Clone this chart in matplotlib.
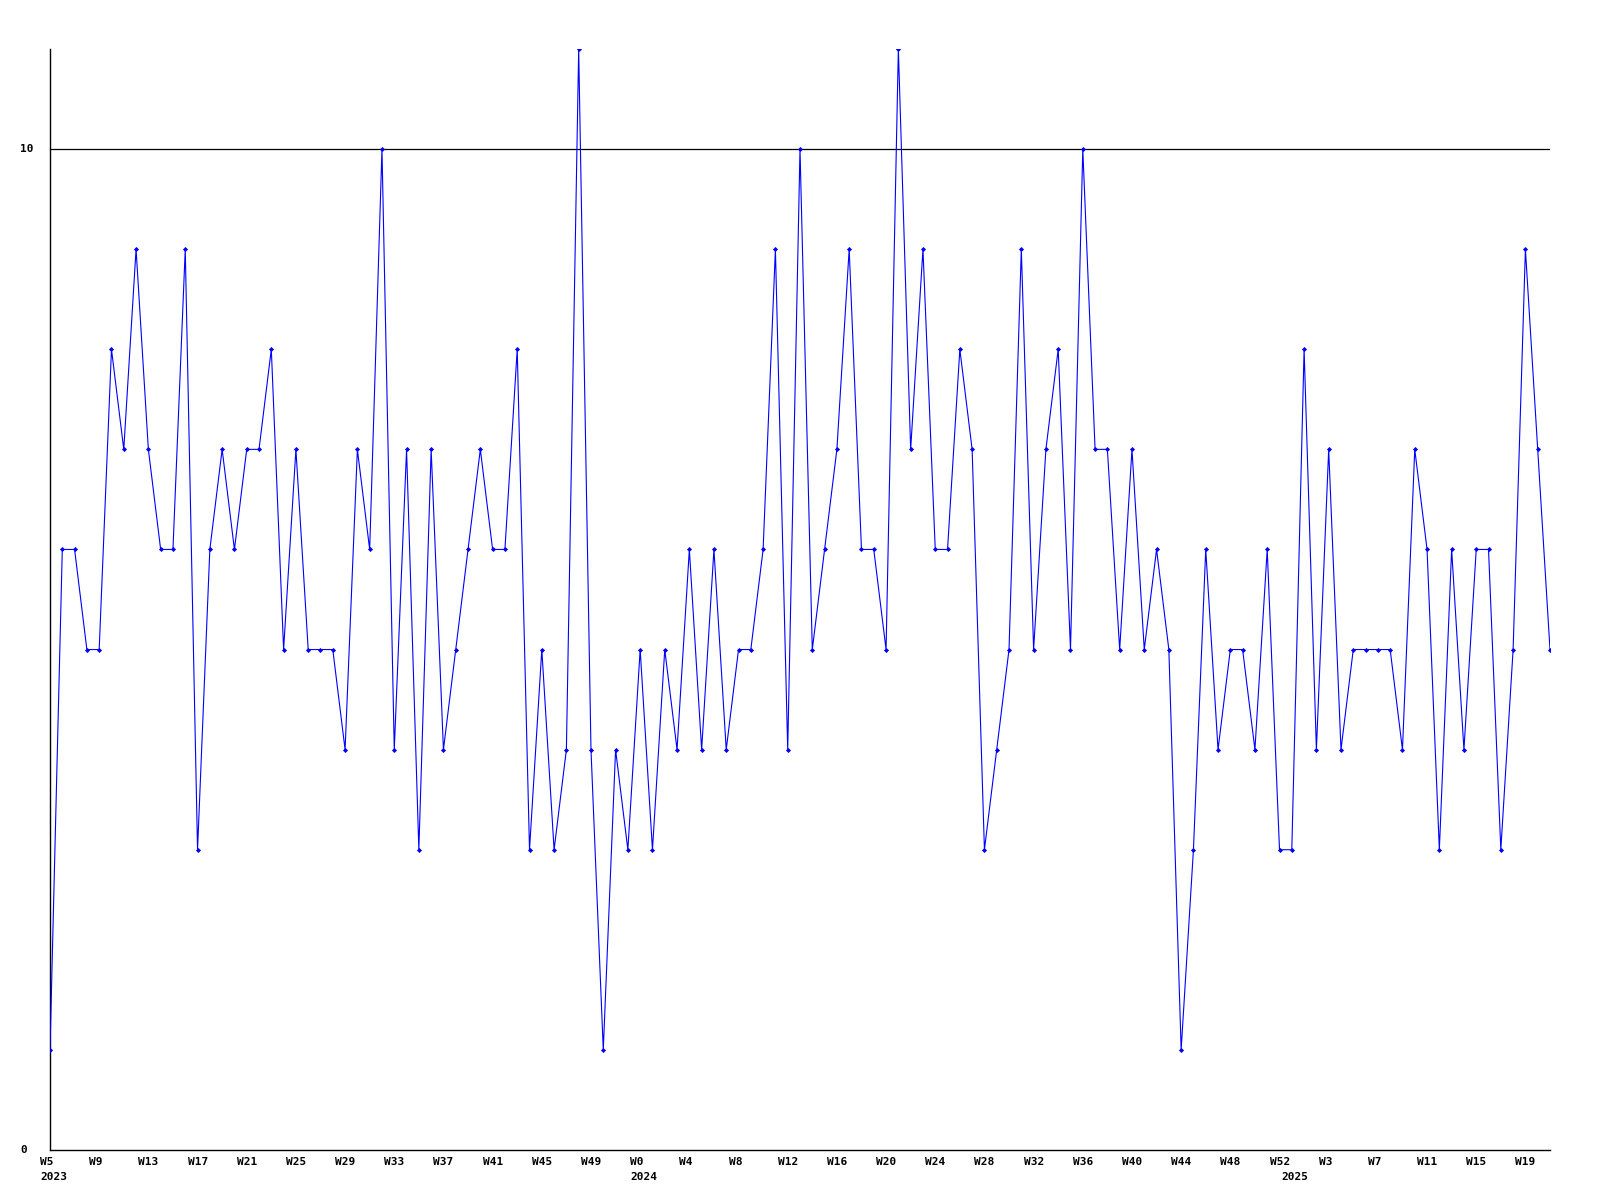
import matplotlib
matplotlib.use("Agg")
import matplotlib.pyplot as plt

# Weekly values, W5 2023 .. W21 2025
values = [1, 6, 6, 5, 5, 8, 7, 9, 7, 6,
          6, 9, 3, 6, 7, 6, 7, 7, 8, 5,
          7, 5, 5, 5, 4, 7, 6, 10, 4, 7,
          3, 7, 4, 5, 6, 7, 6, 6, 8, 3,
          5, 3, 4, 11, 4, 1, 4, 3, 5, 3,
          5, 4, 6, 4, 6, 4, 5, 5, 6, 9,
          4, 10, 5, 6, 7, 9, 6, 6, 5, 11,
          7, 9, 6, 6, 8, 7, 3, 4, 5, 9,
          5, 7, 8, 5, 10, 7, 7, 5, 7, 5,
          6, 5, 1, 3, 6, 4, 5, 5, 4, 6,
          3, 3, 8, 4, 7, 4, 5, 5, 5, 5,
          4, 7, 6, 3, 6, 4, 6, 6, 3, 5,
          9, 7, 5]

week_labels = (["W%d" % w for w in range(5, 53)]
               + ["W%d" % w for w in range(0, 53)]
               + ["W%d" % w for w in range(0, 22)])
year_labels = {0: "2023", 48: "2024", 101: "2025"}
y_tick_values = [0, 10]
ref_line = 10

W, H = 1600, 1200
fig = plt.figure(figsize=(16, 12), dpi=100)
ax = fig.add_axes([50 / W, 1 - 1150 / H, 1500 / W, (1150 - 49) / H])

x = list(range(len(values)))
ax.plot(x, values, color="#0000ff", lw=0.8, marker="D", ms=2.6, mew=0,
        mfc="#0000ff", zorder=3)
ax.axhline(ref_line, color="black", lw=0.9, zorder=2)

ax.set_xlim(0, len(values) - 1)
ax.set_ylim(0, 11)
for s in ["top", "right"]:
    ax.spines[s].set_visible(False)
for s in ["left", "bottom"]:
    ax.spines[s].set_color("black")
    ax.spines[s].set_linewidth(1.0)
ax.set_xticks([])
ax.set_yticks([])

font = dict(family="DejaVu Sans Mono", weight="bold", size=8, color="black")

for i in range(0, len(week_labels), 4):
    ax.annotate(week_labels[i], xy=(i, 0), xycoords=("data", "axes fraction"),
                xytext=(-10, -12), textcoords="offset pixels",
                ha="left", va="center", annotation_clip=False, **font)
for i, yl in year_labels.items():
    ax.annotate(yl, xy=(i, 0), xycoords=("data", "axes fraction"),
                xytext=(-10, -27), textcoords="offset pixels",
                ha="left", va="center", annotation_clip=False, **font)
for v in y_tick_values:
    ax.annotate(str(v), xy=(0, v), xycoords=("axes fraction", "data"),
                xytext=(-30, 0), textcoords="offset pixels",
                ha="left", va="center", annotation_clip=False, **font)

fig.savefig("out.png", dpi=100, facecolor="white")
